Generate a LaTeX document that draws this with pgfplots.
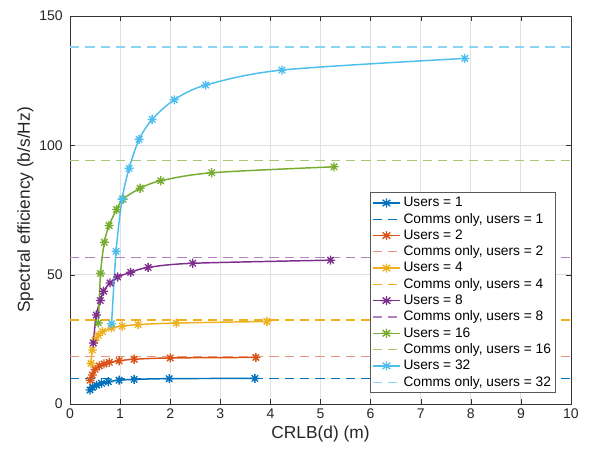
\documentclass[border=0pt]{standalone}
\usepackage{pgfplots}
\pgfplotsset{compat=1.18}
\usepackage{fontspec}
\setmainfont{Liberation Sans}
\definecolor{c1}{rgb}{0,0.447,0.741}
\definecolor{c2}{rgb}{0.85,0.325,0.098}
\definecolor{c3}{rgb}{0.929,0.694,0.125}
\definecolor{c4}{rgb}{0.494,0.184,0.556}
\definecolor{c5}{rgb}{0.466,0.674,0.188}
\definecolor{c6}{rgb}{0.301,0.745,0.933}
\pgfdeclareplotmark{mstar}{%
  \pgfpathmoveto{\pgfqpoint{-\pgfplotmarksize}{0pt}}\pgfpathlineto{\pgfqpoint{\pgfplotmarksize}{0pt}}%
  \pgfpathmoveto{\pgfqpoint{0pt}{-\pgfplotmarksize}}\pgfpathlineto{\pgfqpoint{0pt}{\pgfplotmarksize}}%
  \pgfpathmoveto{\pgfqpoint{-0.707\pgfplotmarksize}{-0.707\pgfplotmarksize}}\pgfpathlineto{\pgfqpoint{0.707\pgfplotmarksize}{0.707\pgfplotmarksize}}%
  \pgfpathmoveto{\pgfqpoint{-0.707\pgfplotmarksize}{0.707\pgfplotmarksize}}\pgfpathlineto{\pgfqpoint{0.707\pgfplotmarksize}{-0.707\pgfplotmarksize}}%
  \pgfusepathqstroke}
\begin{document}
\begin{tikzpicture}
\begin{axis}[
  scale only axis,
  width=375.75pt, height=291pt,
  xmin=0, xmax=10, ymin=0, ymax=150,
  xtick={0,1,...,10}, ytick={0,50,100,150},
  grid=major,
  major grid style={draw=black!12, line width=0.6pt},
  axis line style={draw=black!80, line width=0.5pt},
  tick style={draw=black!80},
  tick align=inside,
  major tick length=4pt,
  ticklabel style={font=\fontsize{10.5}{12}\selectfont, text=black!85},
  yticklabel style={xshift=-2pt},
  /pgf/number format/assume math mode=true,
  xlabel={CRLB(d) (m)},
  ylabel={Spectral efficiency (b/s/Hz)},
  label style={font=\fontsize{13}{15}\selectfont, text=black!85},
  xlabel style={yshift=1pt},
  ylabel style={yshift=-2.5pt},
  legend style={at={(rel axis cs:0.97,0.028)}, anchor=south east,
    font=\fontsize{10.3}{12}\selectfont, draw=black!65, line width=0.5pt,
    row sep=-0.6pt, inner sep=1.5pt, cells={anchor=west}},
  legend image post style={xscale=1.2},
  every axis plot/.append style={line width=1.1pt},
  mark size=3.4pt,
]
% Users = 1
\addplot[c1, mark=mstar, mark options={solid, line width=1pt}, smooth, tension=0.5] coordinates {
 (0.40,5.4) (0.45,6.5) (0.53,7.3) (0.63,8.0) (0.765,8.6) (0.98,9.2) (1.28,9.5) (1.98,9.8) (3.69,9.9)};
\addlegendentry{Users = 1}
\addplot[c1, dash pattern=on 7pt off 4.5pt, line width=0.9pt] coordinates {(0,10.0) (10,10.0)};
\addlegendentry{Comms only, users = 1}
% Users = 2
\addplot[c2, mark=mstar, mark options={solid, line width=1pt}, smooth, tension=0.5] coordinates {
 (0.40,9.2) (0.445,11.2) (0.50,13.4) (0.585,14.7) (0.68,15.5) (0.785,16.1) (0.98,16.7) (1.28,17.3) (2.0,17.8) (3.71,18.0)};
\addlegendentry{Users = 2}
\addplot[c2!60!white, dash pattern=on 7pt off 4.5pt, line width=0.9pt] coordinates {(0,18.5) (10,18.5)};
\addlegendentry{Comms only, users = 2}
% Users = 4
\addplot[c3, mark=mstar, mark options={solid, line width=1pt}, smooth, tension=0.5] coordinates {
 (0.42,15.7) (0.445,20.9) (0.50,24.7) (0.565,26.6) (0.65,28.0) (0.83,29.4) (1.04,30.1) (1.36,30.7) (2.12,31.3) (3.93,31.9)};
\addlegendentry{Users = 4}
\addplot[c3, dash pattern=on 7pt off 4.5pt, line width=0.9pt] coordinates {(0,32.5) (10,32.5)};
\addlegendentry{Comms only, users = 4}
% Users = 8
\addplot[c4, mark=mstar, mark options={solid, line width=1pt}, smooth, tension=0.5] coordinates {
 (0.465,23.6) (0.525,34.4) (0.605,40.0) (0.67,43.6) (0.80,46.8) (0.95,49.1) (1.21,50.9) (1.56,52.8) (2.45,54.4) (5.2,55.6)};
\addlegendentry{Users = 8}
\addplot[c4!60!white, dash pattern=on 7pt off 4.5pt, line width=0.9pt] coordinates {(0,56.5) (10,56.5)};
\addlegendentry{Comms only, users = 8}
% Users = 16
\addplot[c5, mark=mstar, mark options={solid, line width=1pt}, smooth, tension=0.5] coordinates {
 (0.565,31.3) (0.61,50.5) (0.685,62.5) (0.78,69.0) (0.93,75.2) (1.06,79.2) (1.40,83.4) (1.81,86.3) (2.83,89.4) (5.27,91.7)};
\addlegendentry{Users = 16}
\addplot[c5!65!white, dash pattern=on 7pt off 4.5pt, line width=0.9pt] coordinates {(0,94) (10,94)};
\addlegendentry{Comms only, users = 16}
% Users = 32
\addplot[c6, mark=mstar, mark options={solid, line width=1pt}, smooth, tension=0.5] coordinates {
 (0.83,31.0) (0.92,59.0) (1.04,79.2) (1.18,91.1) (1.38,102.3) (1.64,110.0) (2.08,117.6) (2.71,123.3) (4.23,129.1) (7.88,133.6)};
\addlegendentry{Users = 32}
\addplot[c6!65!white, dash pattern=on 7pt off 4.5pt, line width=0.9pt] coordinates {(0,138) (10,138)};
\addlegendentry{Comms only, users = 32}
\end{axis}
\path (current axis.south west) ++(-52.5pt,-36.75pt) rectangle ++(442.5pt,339.75pt);
\end{tikzpicture}
\end{document}
